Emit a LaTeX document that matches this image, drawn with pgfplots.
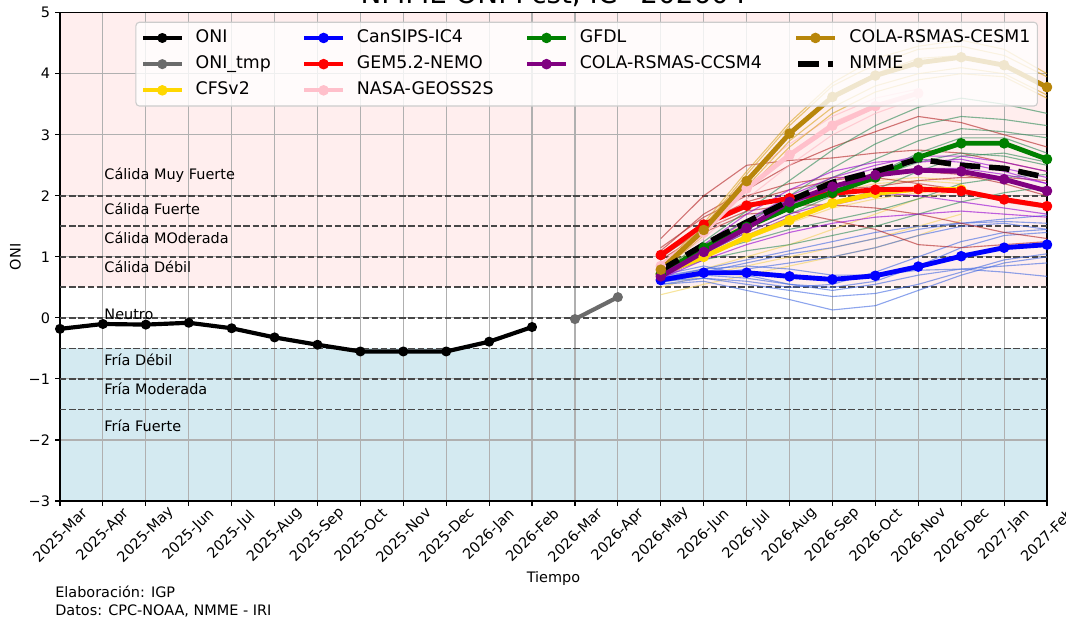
\documentclass[border=0pt]{standalone}
\usepackage{fontspec}
\setmainfont{DejaVu Sans}
\usepackage{pgfplots}
\usepackage{pgfplotstable}
\pgfplotsset{compat=1.18}

\definecolor{onitmp}{HTML}{6B6B6B}
\definecolor{cfs}{HTML}{FFD700}
\definecolor{cansips}{HTML}{0000FF}
\definecolor{gem}{HTML}{FF0000}
\definecolor{nasa}{HTML}{FFC0CB}
\definecolor{gfdl}{HTML}{008000}
\definecolor{ccsm}{HTML}{800080}
\definecolor{cesm}{HTML}{B8860B}
\definecolor{mcfs}{HTML}{F2D35C}
\definecolor{mcansips}{HTML}{4169E1}
\definecolor{mgem}{HTML}{B22222}
\definecolor{mnasa}{HTML}{FFB6C1}
\definecolor{mgfdl}{HTML}{2E8B57}
\definecolor{mccsm}{HTML}{9400D3}
\definecolor{mcesm}{HTML}{DAA520}
\definecolor{bgwarm}{HTML}{FFEEEE}
\definecolor{bgcold}{HTML}{D4EAF1}
\definecolor{gridc}{HTML}{B0B0B0}
\definecolor{refline}{HTML}{474747}
\definecolor{legendedge}{HTML}{CCCCCC}

% observed ONI and provisional values
\pgfplotstableread{
x  y
0  -0.18
1  -0.10
2  -0.11
3  -0.08
4  -0.17
5  -0.32
6  -0.44
7  -0.55
8  -0.55
9  -0.55
10 -0.39
11 -0.15
}\tblONI
\pgfplotstableread{
x  y
12 -0.02
13  0.34
}\tblONItmp

% model members (m*) and model mean
\pgfplotstableread{
x  m1   m2   m3   m4   m5   m6   mean
14 0.60 0.50 0.75 0.70 0.38 0.80 0.72
15 0.80 0.70 1.10 1.00 0.55 1.20 1.00
16 1.00 0.85 1.45 1.30 0.70 1.55 1.32
17 1.20 1.00 1.80 1.55 0.85 1.85 1.60
18 1.45 1.15 2.10 1.80 1.00 2.05 1.88
19 1.70 1.30 2.25 1.95 1.15 2.20 2.04
20 1.95 1.50 2.30 2.05 1.35 2.25 2.11
21 2.10 1.70 2.25 2.10 1.60 2.20 2.10
}\tblCFS

\pgfplotstableread{
x  m1   m2   m3   m4   m5   m6   m7   m8   m9   mean
14 0.55 0.60 0.65 0.62 0.58 0.70 0.55 0.68 0.60 0.62
15 0.60 0.65 0.80 0.75 0.70 0.85 0.65 0.80 0.70 0.74
16 0.45 0.55 0.85 0.90 0.80 0.70 0.60 0.95 0.65 0.74
17 0.30 0.45 0.80 1.05 0.90 0.55 0.50 1.10 0.55 0.68
18 0.13 0.35 0.70 1.15 1.00 0.50 0.55 1.25 0.45 0.63
19 0.20 0.40 0.70 1.30 1.15 0.60 0.75 1.40 0.55 0.69
20 0.45 0.55 0.78 1.45 1.35 0.85 1.00 1.50 0.70 0.84
21 0.70 0.75 0.80 1.55 1.50 1.15 1.25 1.55 0.80 1.01
22 0.90 0.95 0.75 1.62 1.55 1.35 1.40 1.58 0.85 1.15
23 1.00 1.05 0.68 1.68 1.45 1.40 1.45 1.55 0.90 1.20
}\tblCanSIPS

\pgfplotstableread{
x  m1   m2   m3   m4   m5   m6   m7   mean
14 1.30 1.10 1.00 0.95 1.05 1.15 0.98 1.03
15 2.00 1.70 1.45 1.40 1.55 1.65 1.50 1.53
16 2.50 2.10 1.75 1.70 1.90 2.00 1.80 1.84
17 2.58 2.50 1.85 1.75 2.10 2.20 2.00 1.96
18 2.62 2.80 1.85 1.60 2.25 2.30 2.10 2.04
19 2.70 3.05 1.80 1.45 2.35 2.30 2.15 2.10
20 2.75 3.30 1.70 1.20 2.40 2.20 2.25 2.11
21 2.70 3.20 1.55 1.15 2.35 2.10 2.30 2.08
22 2.55 3.00 1.40 1.20 2.20 1.90 2.30 1.94
23 2.40 2.80 1.30 1.25 2.00 1.80 2.25 1.83
}\tblGEM

\pgfplotstableread{
x  m1   m2   m3   mean
14 0.88 0.82 0.86 0.85
15 1.50 1.30 1.45 1.40
16 2.30 1.95 2.15 2.12
17 2.85 2.50 2.70 2.67
18 3.30 3.00 3.20 3.15
19 3.60 3.35 3.50 3.47
20 3.75 3.60 3.70 3.68
}\tblNASA

\pgfplotstableread{
x  m1   m2   m3   m4   m5   m6   m7   m8   mean
14 0.75 0.70 0.72 0.68 0.75 0.70 0.73 0.71 0.72
15 1.25 1.10 1.20 1.00 1.05 0.95 1.15 1.05 1.15
16 1.75 1.55 1.60 1.30 1.25 1.10 1.50 1.40 1.49
17 2.25 2.00 1.95 1.60 1.45 1.20 1.80 1.70 1.80
18 2.75 2.45 2.30 1.85 1.60 1.35 2.05 2.00 2.05
19 3.15 2.85 2.60 2.10 1.75 1.50 2.30 2.35 2.30
20 3.45 3.15 2.90 2.40 1.95 1.70 2.55 2.70 2.63
21 3.60 3.30 3.10 2.65 2.20 1.90 2.70 2.95 2.86
22 3.50 3.25 3.05 2.70 2.30 2.05 2.65 2.95 2.86
23 3.35 3.15 2.95 2.55 2.35 2.15 2.50 2.70 2.60
}\tblGFDL

\pgfplotstableread{
x  m1   m2   m3   m4   m5   m6   m7   mean
14 0.70 0.65 0.68 0.72 0.66 0.64 0.70 0.68
15 1.15 1.00 1.05 1.20 1.10 0.95 1.10 1.08
16 1.60 1.35 1.40 1.70 1.50 1.20 1.55 1.47
17 2.00 1.65 1.70 2.10 1.85 1.40 1.95 1.90
18 2.30 1.85 1.90 2.40 2.10 1.55 2.25 2.15
19 2.50 2.00 2.05 2.55 2.30 1.65 2.45 2.34
20 2.65 2.10 2.00 2.60 2.45 1.70 2.55 2.42
21 2.65 2.05 1.90 2.55 2.45 1.75 2.60 2.40
22 2.55 1.95 1.80 2.40 2.35 1.70 2.45 2.27
23 2.40 1.85 1.70 2.20 2.20 1.65 2.30 2.08
}\tblCCSM

\pgfplotstableread{
x  m1   m2   m3   m4   m5   mean
14 0.82 0.78 0.80 0.76 0.84 0.79
15 1.50 1.40 1.45 1.35 1.55 1.44
16 2.35 2.15 2.25 2.10 2.40 2.24
17 3.15 2.90 3.05 2.80 3.20 3.02
18 3.80 3.45 3.65 3.35 3.85 3.62
19 4.15 3.80 4.00 3.70 4.25 3.97
20 4.40 4.00 4.25 3.90 4.45 4.18
21 4.45 4.10 4.30 4.00 4.55 4.27
22 4.30 4.00 4.15 3.95 4.40 4.14
23 3.95 3.65 3.80 3.60 4.00 3.78
}\tblCESM

\pgfplotstableread{
x  y
14 0.78
15 1.20
16 1.57
17 1.92
18 2.22
19 2.40
20 2.60
21 2.50
22 2.45
23 2.30
}\tblNMME

\pgfplotsset{
  onistyle/.style={line width=3pt, line cap=rect, line join=round, mark=*, mark size=3.1pt, mark options={solid, line width=1pt}},
  meanstyle/.style={line width=3.5pt, line cap=rect, line join=round, mark=*, mark size=3.3pt, mark options={solid, line width=1pt}},
  membstyle/.style={line width=0.8pt, line join=round, draw opacity=0.6, forget plot},
  nmmestyle/.style={black, line width=4pt, line cap=butt, dash pattern=on 14.8pt off 6.4pt},
  refstyle/.style={refline, line width=1.25pt, dash pattern=on 4.6pt off 2pt, forget plot},
}

\begin{document}
\begin{tikzpicture}[font=\fontsize{10.4}{12.5}\selectfont]
\begin{axis}[
  name=ax,
  set layers,
  scale only axis,
  width=710.64pt, height=351.58pt,
  xmin=0, xmax=23, ymin=-3, ymax=5,
  xtick={0,...,23},
  xticklabels={2025-Mar,2025-Apr,2025-May,2025-Jun,2025-Jul,2025-Aug,2025-Sep,2025-Oct,2025-Nov,2025-Dec,2026-Jan,2026-Feb,2026-Mar,2026-Apr,2026-May,2026-Jun,2026-Jul,2026-Aug,2026-Sep,2026-Oct,2026-Nov,2026-Dec,2027-Jan,2027-Feb},
  ytick={-3,...,5},
  yticklabels={−3,−2,−1,0,1,2,3,4,5},
  xticklabel style={yshift=-21pt, rotate=45, anchor=center},
  yticklabel style={inner sep=0pt, xshift=-3.5pt},
  tick align=outside, tick pos=left, major tick length=3.5pt,
  tick style={black, line width=0.8pt},
  axis line style={black, line width=0.8pt},
  grid=major, major grid style={gridc, line width=0.8pt},
  xlabel={Tiempo}, ylabel={ONI},
  xlabel style={at={(axis description cs:0.5,-0.1597)}, anchor=center},
  ylabel style={at={(axis description cs:-0.0451,0.5)}, anchor=center},
  legend columns=4,
  legend cell align=left,
  legend image code/.code={\draw[mark repeat=2,mark phase=2,#1] plot coordinates {(0pt,0pt) (12.5pt,0pt) (25pt,0pt)};},
  legend image post style={opacity=1},
  legend style={
    at={(1,1)}, anchor=north east, xshift=-6.5pt, yshift=-6.5pt,
    fill=white, fill opacity=0.8, draw opacity=1, text opacity=1,
    draw=legendedge, line width=0.8pt, rounded corners=2.5pt,
    inner sep=5pt, row sep=6.25pt,
    font=\fontsize{12.5}{15}\selectfont,
    nodes={inner sep=0pt, text height=9.5pt, text depth=3.1pt},
    /tikz/every odd column/.append style={column sep=10pt},
    /tikz/every even column/.append style={column sep=24pt},
  },
]
% background bands
\addplot[draw=none, fill=bgwarm, on layer=axis background, forget plot] coordinates {(0,0.5) (23,0.5) (23,5) (0,5)};
\addplot[draw=none, fill=bgcold, on layer=axis background, forget plot] coordinates {(0,-3) (23,-3) (23,-0.5) (0,-0.5)};

% category thresholds
\addplot[refstyle] coordinates {(0,2) (23,2)};
\addplot[refstyle] coordinates {(0,1.5) (23,1.5)};
\addplot[refstyle] coordinates {(0,1) (23,1)};
\addplot[refstyle] coordinates {(0,0.5) (23,0.5)};
\addplot[refstyle] coordinates {(0,0) (23,0)};
\addplot[refstyle] coordinates {(0,-0.5) (23,-0.5)};
\addplot[refstyle] coordinates {(0,-1) (23,-1)};
\addplot[refstyle] coordinates {(0,-1.5) (23,-1.5)};

\addplot[black, onistyle, forget plot] table[x=x, y=y] {\tblONI};
\addplot[onitmp, onistyle, forget plot] table[x=x, y=y] {\tblONItmp};

% ensemble members
\pgfplotsinvokeforeach{m1,m2,m3,m4,m5,m6}{\addplot[mcfs, membstyle] table[x=x, y=#1] {\tblCFS};}
\pgfplotsinvokeforeach{m1,m2,m3,m4,m5,m6,m7,m8,m9}{\addplot[mcansips, membstyle] table[x=x, y=#1] {\tblCanSIPS};}
\pgfplotsinvokeforeach{m1,m2,m3,m4,m5,m6,m7}{\addplot[mgem, membstyle] table[x=x, y=#1] {\tblGEM};}
\pgfplotsinvokeforeach{m1,m2,m3}{\addplot[mnasa, membstyle] table[x=x, y=#1] {\tblNASA};}
\pgfplotsinvokeforeach{m1,m2,m3,m4,m5,m6,m7,m8}{\addplot[mgfdl, membstyle] table[x=x, y=#1] {\tblGFDL};}
\pgfplotsinvokeforeach{m1,m2,m3,m4,m5,m6,m7}{\addplot[mccsm, membstyle] table[x=x, y=#1] {\tblCCSM};}
\pgfplotsinvokeforeach{m1,m2,m3,m4,m5}{\addplot[mcesm, membstyle] table[x=x, y=#1] {\tblCESM};}

% model means
\addplot[cfs, meanstyle, forget plot] table[x=x, y=mean] {\tblCFS};
\addplot[cansips, meanstyle, forget plot] table[x=x, y=mean] {\tblCanSIPS};
\addplot[gem, meanstyle, forget plot] table[x=x, y=mean] {\tblGEM};
\addplot[nasa, meanstyle, forget plot] table[x=x, y=mean] {\tblNASA};
\addplot[gfdl, meanstyle, forget plot] table[x=x, y=mean] {\tblGFDL};
\addplot[ccsm, meanstyle, forget plot] table[x=x, y=mean] {\tblCCSM};
\addplot[cesm, meanstyle, forget plot] table[x=x, y=mean] {\tblCESM};
\addplot[nmmestyle, forget plot] table[x=x, y=y] {\tblNMME};

% category labels
\node[anchor=west, inner sep=0pt] at (axis cs:1.03,2.34) {Cálida Muy Fuerte};
\node[anchor=west, inner sep=0pt] at (axis cs:1.03,1.78) {Cálida Fuerte};
\node[anchor=west, inner sep=0pt] at (axis cs:1.03,1.31) {Cálida MOderada};
\node[anchor=west, inner sep=0pt] at (axis cs:1.03,0.83) {Cálida Débil};
\node[anchor=west, inner sep=0pt] at (axis cs:1.03,0.05) {Neutro};
\node[anchor=west, inner sep=0pt] at (axis cs:1.03,-0.68) {Fría Débil};
\node[anchor=west, inner sep=0pt] at (axis cs:1.03,-1.17) {Fría Moderada};
\node[anchor=west, inner sep=0pt] at (axis cs:1.03,-1.77) {Fría Fuerte};

% legend, in the column order of the original
\addlegendimage{black, onistyle}
\addlegendentry{ONI}
\addlegendimage{cansips, meanstyle, line width=3pt}
\addlegendentry{CanSIPS-IC4}
\addlegendimage{gfdl, meanstyle, line width=3pt}
\addlegendentry{GFDL}
\addlegendimage{cesm, meanstyle, line width=3pt}
\addlegendentry{COLA-RSMAS-CESM1}
\addlegendimage{onitmp, onistyle}
\addlegendentry{ONI\_tmp}
\addlegendimage{gem, meanstyle, line width=3pt}
\addlegendentry{GEM5.2-NEMO}
\addlegendimage{ccsm, meanstyle, line width=3pt}
\addlegendentry{COLA-RSMAS-CCSM4}
\addlegendimage{nmmestyle}
\addlegendentry{NMME}
\addlegendimage{cfs, meanstyle, line width=3pt}
\addlegendentry{CFSv2}
\addlegendimage{nasa, meanstyle, line width=3pt}
\addlegendentry{NASA-GEOSS2S}
\end{axis}

\node[anchor=base, font=\fontsize{20}{24}\selectfont] at (355.32pt,357.84pt) {NMME ONI Fcst, IC=202604};
\node[anchor=west, inner sep=0pt] at (-3.6pt,-65.52pt) {Elaboración: IGP};
\node[anchor=west, inner sep=0pt] at (-3.6pt,-79.2pt) {Datos: CPC-NOAA, NMME - IRI};

\pgfresetboundingbox
\path[use as bounding box] (-43.2pt,-86.4pt) rectangle (724.32pt,360.72pt);
\end{tikzpicture}
\end{document}
